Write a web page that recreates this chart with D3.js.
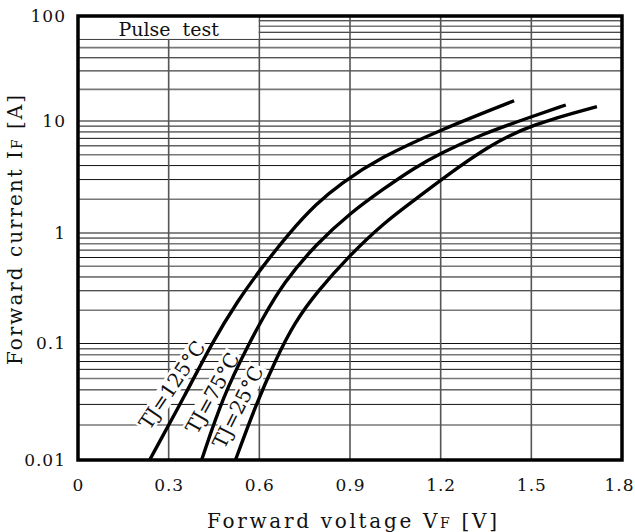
<!DOCTYPE html>
<html>
<head>
<meta charset="utf-8">
<script src="https://cdn.jsdelivr.net/npm/d3@7"></script>
<style>
  body { margin: 0; background: #fff; }
  text { font-family: "DejaVu Serif", serif; fill: #111; }
</style>
</head>
<body>
<div id="chart"></div>
<script>
// ---- data ----
const xTicks = [0, 0.3, 0.6, 0.9, 1.2, 1.5, 1.8];
const xTickLabels = ["0", "0.3", "0.6", "0.9", "1.2", "1.5", "1.8"];
const yDecades = [0.01, 0.1, 1, 10, 100];
const yTickLabels = ["0.01", "0.1", "1", "10", "100"];
const decadeSteps = [1, 2, 3, 4, 5, 6, 7, 8, 9];

const seriesNames = ["TJ=125°C", "TJ=75°C", "TJ=25°C"];

const vf125 = [0.237, 0.360, 0.442, 0.530, 0.602, 0.702, 0.790, 0.867, 1.000, 1.198, 1.443];
const if125 = [0.01, 0.0384, 0.1, 0.2475, 0.4625, 1.027, 1.842, 2.74, 4.72, 8.31, 15.6];

const vf75 = [0.409, 0.481, 0.566, 0.608, 0.679, 0.790, 0.900, 1.010, 1.115, 1.198, 1.330, 1.501, 1.614];
const if75 = [0.01, 0.0359, 0.1, 0.163, 0.353, 0.804, 1.50, 2.47, 3.85, 5.13, 7.50, 11.0, 14.2];

const vf25 = [0.521, 0.587, 0.654, 0.718, 0.790, 0.900, 1.010, 1.121, 1.209, 1.363, 1.501, 1.717];
const if25 = [0.01, 0.0291, 0.0729, 0.157, 0.292, 0.632, 1.22, 2.04, 3.10, 6.11, 9.31, 13.7];

// ---- layout ----
const width = 635;
const height = 532;
const plotL = 78, plotR = 622, plotT = 16, plotB = 460;

const svg = d3.select("#chart")
              .append("svg")
              .attr("width", width)
              .attr("height", height);

const x = d3.scaleLinear().domain([0, 1.8]).range([plotL, plotR]);
// printed log grid is not perfectly even from decade to decade
const yLog = d3.scaleLinear()
               .domain([-2, -1, 0, 1, 2])
               .range([plotB, 343.5, 233, 121, plotT]);
const y = v => yLog(Math.log10(v));

// horizontal grid
const hLines = [];
yDecades.slice(0, 4).forEach(d => decadeSteps.forEach(k => hLines.push(k * d)));

svg.append("g")
   .selectAll("line")
   .data(hLines)
   .enter()
   .append("line")
   .attr("x1", plotL)
   .attr("x2", plotR)
   .attr("y1", d => y(d))
   .attr("y2", d => y(d))
   .attr("stroke", (d, i) => i % 3 === 1 ? "#777" : "#111")
   .attr("stroke-width", (d, i) => i % 3 === 1 ? 1.6 : 1);

// vertical grid
svg.append("g")
   .selectAll("line")
   .data(xTicks.slice(1, -1))
   .enter()
   .append("line")
   .attr("x1", d => x(d))
   .attr("x2", d => x(d))
   .attr("y1", plotT)
   .attr("y2", plotB)
   .attr("stroke", "#555")
   .attr("stroke-width", 1.6);

// "Pulse test" box
svg.append("rect")
   .attr("x", plotL)
   .attr("y", plotT)
   .attr("width", x(0.6) - plotL - 0.8)
   .attr("height", y(60) - plotT - 0.5)
   .attr("fill", "#fff");

svg.append("text")
   .attr("x", (plotL + x(0.6)) / 2)
   .attr("y", 36)
   .attr("text-anchor", "middle")
   .attr("font-size", 19)
   .style("white-space", "pre")
   .text("Pulse  test");

// curve labels with white backing
const labelSpots = [
  { v: 0.311, i: 0.044, angle: -56 },
  { v: 0.445, i: 0.0376, angle: -61 },
  { v: 0.529, i: 0.0285, angle: -63.5 }
];

seriesNames.forEach((name, k) => {
  const s = labelSpots[k];
  const g = svg.append("g")
               .attr("transform", `translate(${x(s.v)}, ${y(s.i)}) rotate(${s.angle})`);
  const bg = g.append("rect").attr("fill", "#fff");
  const t = g.append("text")
             .attr("text-anchor", "middle")
             .attr("dominant-baseline", "central")
             .attr("font-size", 20)
             .text(name);
  const b = t.node().getBBox();
  bg.attr("x", b.x - 2).attr("y", b.y + 2).attr("width", b.width + 4).attr("height", b.height - 4);
});

// curves
const line = d3.line()
               .x(d => x(d[0]))
               .y(d => y(d[1]))
               .curve(d3.curveBasis);

[[vf125, if125], [vf75, if75], [vf25, if25]].forEach(([vs, is]) => {
  svg.append("path")
     .datum(vs.map((v, i) => [v, is[i]]))
     .attr("d", line)
     .attr("fill", "none")
     .attr("stroke", "#000")
     .attr("stroke-width", 3.4)
     .attr("stroke-linecap", "butt");
});

// frame
svg.append("rect")
   .attr("x", plotL)
   .attr("y", plotT)
   .attr("width", plotR - plotL)
   .attr("height", plotB - plotT)
   .attr("fill", "none")
   .attr("stroke", "#000")
   .attr("stroke-width", 3.5);

// axes
const xAxis = svg.append("g")
                 .attr("transform", `translate(0, ${plotB})`)
                 .call(d3.axisBottom(x)
                         .tickValues(xTicks)
                         .tickSize(0)
                         .tickPadding(19)
                         .tickFormat((d, i) => xTickLabels[i]));
xAxis.select(".domain").remove();
xAxis.attr("font-family", null).attr("font-size", null);
xAxis.selectAll("text")
     .attr("font-family", "Liberation Serif, serif")
     .attr("font-size", 17)
     .attr("letter-spacing", 1)
     .attr("dx", (d, i) => i === xTicks.length - 1 ? -3 : 0);

const yAxis = svg.append("g")
                 .attr("transform", `translate(${plotL}, 0)`)
                 .call(d3.axisLeft(yLog)
                         .tickValues(yDecades.map(Math.log10))
                         .tickSize(0)
                         .tickPadding(12)
                         .tickFormat((d, i) => yTickLabels[i]));
yAxis.select(".domain").remove();
yAxis.attr("font-family", null).attr("font-size", null);
yAxis.selectAll("text")
     .attr("font-family", "Liberation Serif, serif")
     .attr("font-size", 17)
     .attr("letter-spacing", 1);

// axis titles
const xTitle = svg.append("text")
                  .attr("x", 352)
                  .attr("y", 528)
                  .attr("text-anchor", "middle")
                  .attr("font-size", 20)
                  .attr("textLength", 290)
                  .attr("lengthAdjust", "spacing");
xTitle.append("tspan").text("Forward voltage V");
xTitle.append("tspan").attr("font-size", 14).text("F");
xTitle.append("tspan").text(" [V]");

const yTitle = svg.append("text")
                  .attr("transform", "translate(22, 230) rotate(-90)")
                  .attr("text-anchor", "middle")
                  .attr("font-size", 20)
                  .attr("textLength", 270)
                  .attr("lengthAdjust", "spacing");
yTitle.append("tspan").text("Forward current I");
yTitle.append("tspan").attr("font-size", 14).text("F");
yTitle.append("tspan").text(" [A]");
</script>
</body>
</html>
